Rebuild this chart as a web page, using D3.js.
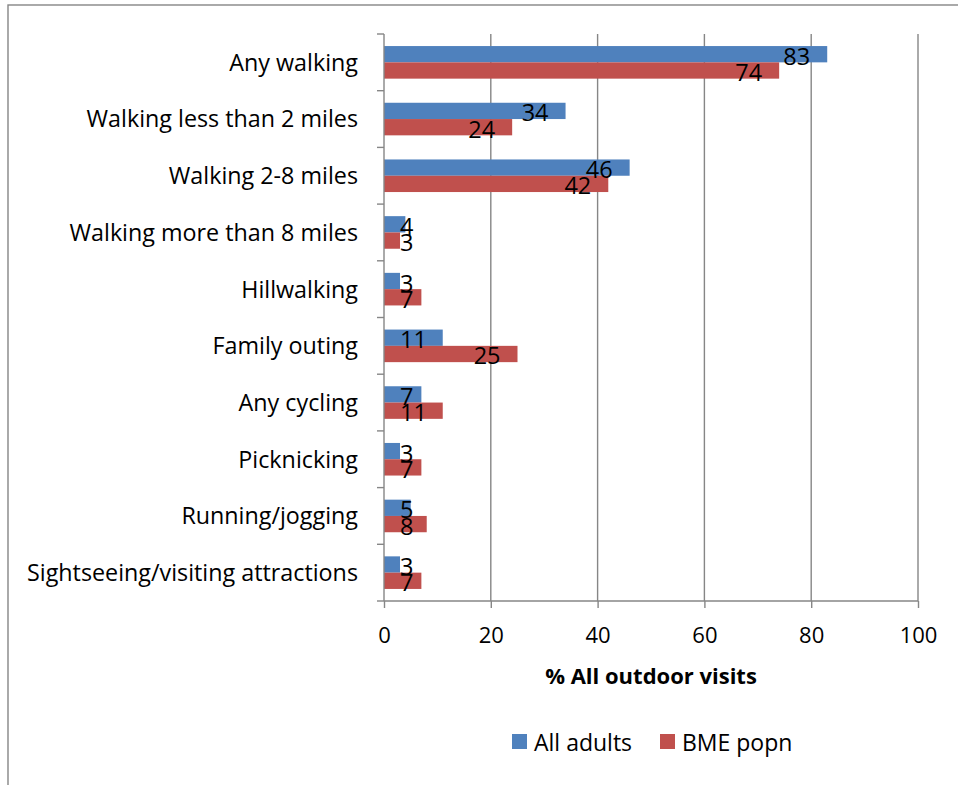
<!DOCTYPE html>
<html>
<head>
<meta charset="utf-8">
<script src="https://cdn.jsdelivr.net/npm/d3@7/dist/d3.min.js"></script>
<style>
  html, body { margin: 0; padding: 0; background: #fff; }
  svg { display: block; font-family: "Open Sans", "Noto Sans", sans-serif; }
</style>
</head>
<body>
<svg id="chart" width="958" height="785"></svg>
<script>
// Activities undertaken on outdoor visits (% of all outdoor visits)
const categories = [
  "Any walking",
  "Walking less than 2 miles",
  "Walking 2-8 miles",
  "Walking more than 8 miles",
  "Hillwalking",
  "Family outing",
  "Any cycling",
  "Picknicking",
  "Running/jogging",
  "Sightseeing/visiting attractions"
];
const seriesNames = ["All adults", "BME popn"];
const allAdults = [83, 34, 46, 4, 3, 11, 7, 3, 5, 3];
const bmePopn   = [74, 24, 42, 3, 7, 25, 11, 7, 8, 7];
const xTicks = [0, 20, 40, 60, 80, 100];
const xTitle = "% All outdoor visits";

const colors = { "All adults": "#4F81BD", "BME popn": "#C0504D" };
const gridColor = "#868686";

const svg = d3.select("#chart");

// outer chart frame (runs off the right and bottom edge)
svg.append("rect")
  .attr("x", 8).attr("y", 5)
  .attr("width", 1000).attr("height", 900)
  .attr("fill", "none")
  .attr("stroke", gridColor)
  .attr("stroke-width", 1.4);

const plot = { left: 384, right: 918, top: 34, bottom: 601 };

const x = d3.scaleLinear().domain([0, 100]).range([plot.left, plot.right]);
const y0 = d3.scaleBand().domain(categories).range([plot.top, plot.bottom]);
const y1 = d3.scaleBand().domain(seriesNames).range([0, y0.bandwidth()]).paddingOuter(0.74);

// vertical gridlines
svg.append("g").selectAll("line")
  .data(xTicks.filter(t => t > 0))
  .join("line")
  .attr("x1", d => x(d)).attr("x2", d => x(d))
  .attr("y1", plot.top).attr("y2", plot.bottom)
  .attr("stroke", gridColor).attr("stroke-width", 1.4);

// bars
const rows = categories.map((c, i) => ({
  cat: c,
  vals: [
    { series: "All adults", value: allAdults[i] },
    { series: "BME popn", value: bmePopn[i] }
  ]
}));

const groups = svg.append("g").selectAll("g")
  .data(rows)
  .join("g")
  .attr("transform", d => `translate(0,${y0(d.cat)})`);

groups.selectAll("rect")
  .data(d => d.vals)
  .join("rect")
  .attr("x", x(0))
  .attr("y", d => y1(d.series))
  .attr("width", d => x(d.value) - x(0))
  .attr("height", y1.bandwidth())
  .attr("fill", d => colors[d.series]);

// data labels: inside the bar end, but never left of the minimum inset
const labelFont = 23.5;
groups.selectAll("text")
  .data(d => d.vals)
  .join("text")
  .attr("font-size", labelFont)
  .attr("fill", "#000")
  .attr("dominant-baseline", "central")
  .attr("y", d => y1(d.series) + y1.bandwidth() / 2 + 1.5)
  .text(d => d.value)
  .each(function(d) {
    const w = this.getComputedTextLength();
    let left = x(d.value) - 17 - w;
    const minLeft = x(0) + 16;
    if (left < minLeft) left = minLeft;
    d3.select(this).attr("x", left);
  });

// y axis (categories)
const yAxis = d3.axisLeft(y0).tickSize(0).tickPadding(26);
const yg = svg.append("g")
  .attr("transform", `translate(${plot.left},0)`)
  .call(yAxis);
yg.select(".domain").remove();
yg.selectAll("text")
  .attr("font-size", 23.3)
  .attr("fill", "#000")
  .attr("font-family", "'Open Sans', 'Noto Sans', sans-serif")
  .attr("dy", "0.36em");

// left axis line and tick marks on category boundaries
svg.append("line")
  .attr("x1", plot.left).attr("x2", plot.left)
  .attr("y1", plot.top).attr("y2", plot.bottom)
  .attr("stroke", gridColor).attr("stroke-width", 1.4);
const boundaries = categories.map(c => y0(c)).concat([plot.bottom]);
svg.append("g").selectAll("line")
  .data(boundaries)
  .join("line")
  .attr("x1", plot.left - 7).attr("x2", plot.left)
  .attr("y1", d => d).attr("y2", d => d)
  .attr("stroke", gridColor).attr("stroke-width", 1.4);

// x axis
const xAxis = d3.axisBottom(x).tickValues(xTicks).tickSize(7).tickPadding(19);
const xg = svg.append("g")
  .attr("transform", `translate(0,${plot.bottom})`)
  .call(xAxis);
xg.select(".domain")
  .attr("d", `M${plot.left},0H${plot.right}`)
  .attr("stroke", gridColor).attr("stroke-width", 1.4);
xg.selectAll(".tick line").attr("stroke", gridColor).attr("stroke-width", 1.4);
xg.selectAll("text")
  .attr("font-size", 22)
  .attr("fill", "#000")
  .attr("font-family", "'Open Sans', 'Noto Sans', sans-serif");

// axis title, centred under the plot
svg.append("text")
  .attr("x", (plot.left + plot.right) / 2).attr("y", 684)
  .attr("text-anchor", "middle")
  .attr("font-size", 22)
  .attr("font-weight", "bold")
  .attr("fill", "#000")
  .text(xTitle);

// legend
const legendItems = [
  { name: seriesNames[0], sx: 512, tx: 534 },
  { name: seriesNames[1], sx: 660, tx: 682 }
];
const lg = svg.append("g");
lg.selectAll("rect")
  .data(legendItems)
  .join("rect")
  .attr("x", d => d.sx).attr("y", 734)
  .attr("width", 15).attr("height", 15)
  .attr("fill", d => colors[d.name]);
lg.selectAll("text")
  .data(legendItems)
  .join("text")
  .attr("x", d => d.tx).attr("y", 742)
  .attr("dominant-baseline", "central")
  .attr("font-size", 23)
  .attr("fill", "#000")
  .text(d => d.name);
</script>
</body>
</html>
